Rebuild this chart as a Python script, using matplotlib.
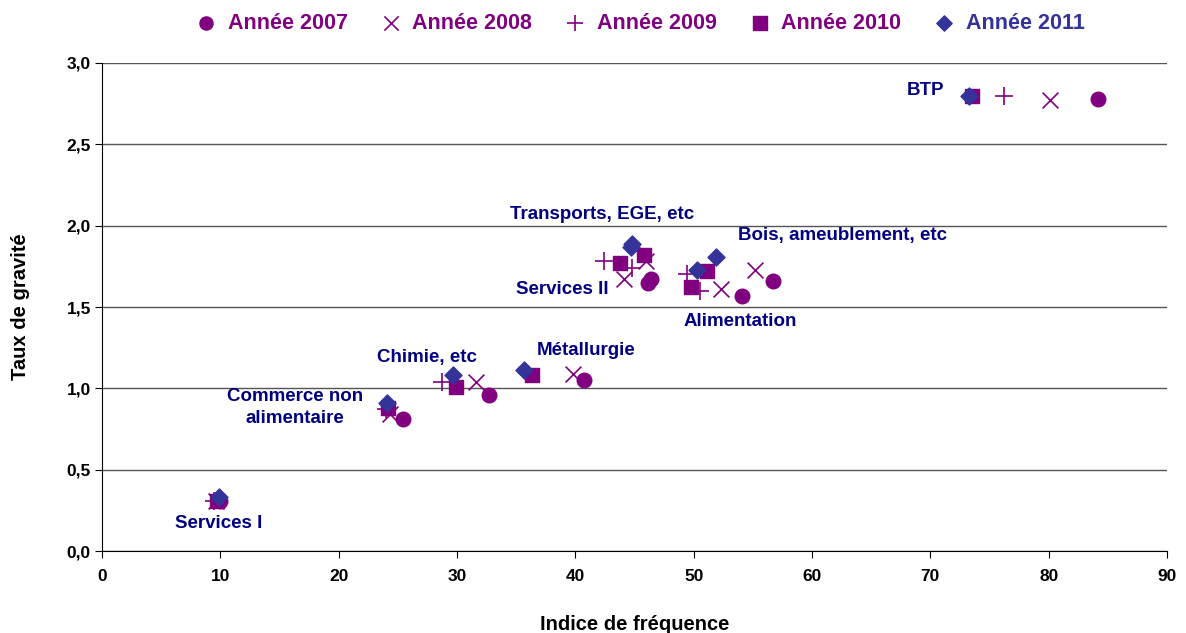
import matplotlib.pyplot as plt

plt.rcParams['font.family'] = ['Liberation Sans', 'DejaVu Sans']
plt.rcParams['font.weight'] = 'bold'

# secteurs: BTP, Transports, Services II, Bois, Alimentation, Metallurgie, Chimie, Commerce, Services I
x_2007 = [84.2, 46.4, 46.1, 56.7, 54.1, 40.7, 32.7, 25.4, 10.0]
y_2007 = [2.78, 1.67, 1.65, 1.66, 1.57, 1.05, 0.96, 0.81, 0.31]
x_2008 = [80.1, 46.0, 44.1, 55.2, 52.3, 39.8, 31.6, 24.3, 9.6]
y_2008 = [2.77, 1.78, 1.67, 1.73, 1.61, 1.09, 1.04, 0.84, 0.31]
x_2009 = [76.2, 44.8, 42.4, 49.4, 50.5, 36.0, 28.7, 24.0, 9.5]
y_2009 = [2.80, 1.74, 1.78, 1.70, 1.60, 1.09, 1.04, 0.87, 0.31]
x_2010 = [73.5, 45.8, 43.8, 51.1, 49.8, 36.3, 29.9, 24.2, 9.7]
y_2010 = [2.80, 1.82, 1.77, 1.72, 1.62, 1.08, 1.01, 0.88, 0.31]
x_2011 = [73.3, 44.8, 44.7, 51.9, 50.3, 35.7, 29.7, 24.1, 9.9]
y_2011 = [2.80, 1.89, 1.87, 1.81, 1.73, 1.11, 1.08, 0.91, 0.33]

labels = ["BTP", "Transports, EGE, etc", "Services II", "Bois, ameublement, etc",
          "Alimentation", "Métallurgie", "Chimie, etc", "Commerce non\nalimentaire", "Services I"]
label_x = [69.6, 42.3, 38.9, 62.6, 53.9, 40.9, 27.5, 16.3, 9.9]
label_y = [2.83, 2.07, 1.61, 1.94, 1.41, 1.235, 1.19, 0.88, 0.17]

purple = '#800080'
blue = '#333399'
navy = '#000080'

fig = plt.figure(figsize=(11.86, 6.33), dpi=100)
ax = fig.add_axes([0.086, 0.1295, 0.898, 0.771])

ax.scatter(x_2007, y_2007, marker='o', s=110, color=purple, label='Année 2007', zorder=3)
ax.scatter(x_2008, y_2008, marker='x', s=130, color=purple, linewidths=1.2, label='Année 2008', zorder=3)
ax.scatter(x_2009, y_2009, marker='+', s=170, color=purple, linewidths=1.2, label='Année 2009', zorder=3)
ax.scatter(x_2010, y_2010, marker='s', s=110, color=purple, label='Année 2010', zorder=3)
ax.scatter(x_2011, y_2011, marker='D', s=75, color=blue, label='Année 2011', zorder=4)

for t, lx, ly in zip(labels, label_x, label_y):
    ax.text(lx, ly, t, color=navy, fontsize=13.5, fontweight='bold', ha='center', va='center',
            linespacing=1.4)

ax.set_xlim(0, 90)
ax.set_ylim(0, 3.0)
ax.set_xticks(range(0, 91, 10))
ax.set_yticks([0, 0.5, 1.0, 1.5, 2.0, 2.5, 3.0])
ax.set_yticklabels(['0,0', '0,5', '1,0', '1,5', '2,0', '2,5', '3,0'])
ax.tick_params(labelsize=12.5, direction='out', length=5)
ax.tick_params(axis='x', pad=8)
ax.tick_params(axis='y', pad=3)
ax.grid(axis='y', color='#555555', linewidth=1)
ax.set_axisbelow(True)
ax.spines['top'].set_visible(False)
ax.spines['right'].set_visible(False)
ax.set_xlabel('Indice de fréquence', fontsize=14.5, fontweight='bold', labelpad=22)
ax.set_ylabel('Taux de gravité', fontsize=14.5, fontweight='bold', labelpad=26)

leg = fig.legend(loc='upper center', bbox_to_anchor=(0.535, 1.01), ncol=5, frameon=False,
                 fontsize=15.5, handletextpad=0.0, columnspacing=1.0, markerscale=0.9)
for txt, c in zip(leg.get_texts(), [purple, purple, purple, purple, blue]):
    txt.set_color(c)

fig.savefig('out.png', dpi=100)
